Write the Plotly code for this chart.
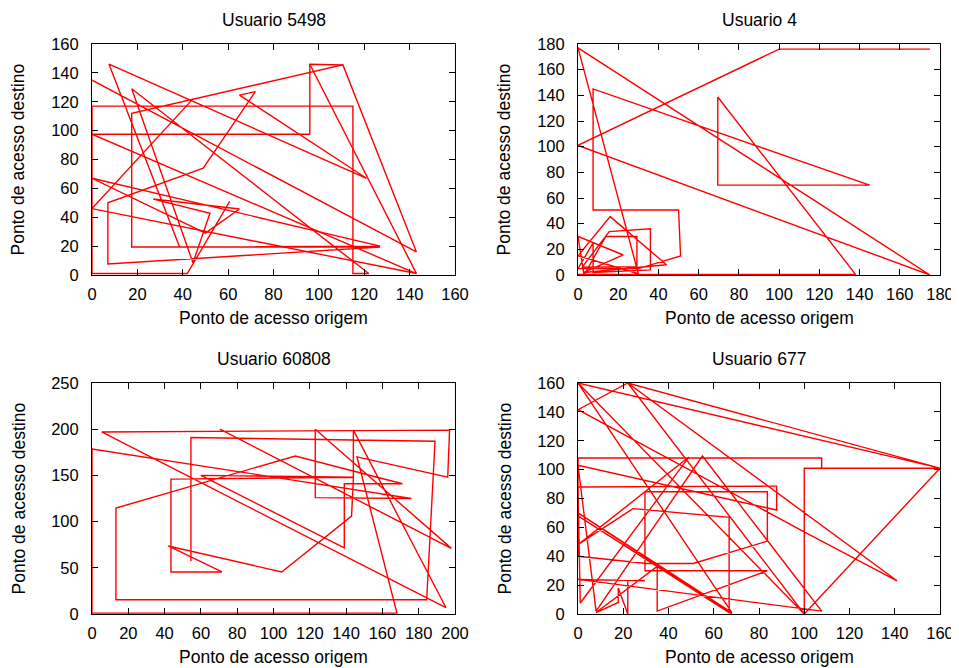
import plotly.graph_objects as go

# ---- data (access point origin -> destination paths) ----
u5498_x = [0, 143, 110.6, 17.5, 17.5, 127, 7, 7, 49, 72, 65, 121, 7.5, 38.6, 127, 0, 50, 65, 27, 52, 44.5, 17.5, 122, 115, 115, 0, 0, 42, 60.7]
u5498_y = [135, 16, 145.5, 112, 19.4, 19.4, 7.6, 50, 74, 127, 124.6, 67, 146, 19.4, 20, 67, 29, 45.7, 52.6, 42.7, 8.5, 129, 1, 1, 117, 117, 1, 1, 51]
u5498_x2 = [44.5, 0, 143, 0, 96, 96, 110.6]
u5498_y2 = [122, 46, 1, 97.5, 97.5, 146, 145.5]
u5498_x3 = [96, 143]
u5498_y3 = [146, 1]

u4_x = [175, 100, 0, 175, 0, 30, 0, 16, 44, 3, 22.5, 0, 3, 13.8, 29.3, 29.3, 2, 15.5, 36, 36, 7.5, 7.5, 0, 30, 51, 50, 7.5, 7.5, 145, 69.5, 69.5, 138, 0]
u4_y = [176, 176, 101, 0, 177, 1, 15, 45.5, 8, 2, 15.6, 30, 0, 30, 30, 6.5, 6, 33.8, 36, 4, 2, 25, 5, 5, 14.8, 50.6, 50.6, 145, 70, 70, 138.7, 0.5, 0.5]

u60808_x = [54.5, 54.5, 189, 184.4, 13.2, 13.2, 112, 171, 139, 139, 60, 144, 43.5, 43.5, 71.6, 42, 104.5, 143, 144, 144, 195, 5.3, 197, 196, 146, 168, 0, 0, 176, 123, 123, 198, 70.5]
u60808_y = [57, 191, 187, 15.5, 15.5, 114.7, 171, 141, 141, 71.5, 150, 148, 146, 45.5, 45.5, 73.6, 45.5, 106, 146, 199, 7, 197, 199, 148, 170, 1, 1, 178.6, 125, 126, 200, 71, 200]

u677_x = [0, 100, 22, 0, 101, 141, 22, 160, 0, 68, 0, 68, 0, 66.8, 66.8, 24.3, 0, 49, 1, 0, 87.8, 87.8, 0, 8, 55, 107.7, 0, 29.6, 22, 22, 17.8, 17.8, 8, 35, 35, 83.7, 29.6, 29.6, 83.7, 83.7, 51, 30.4, 0, 0, 107.7, 107.7, 160, 100, 100, 107.7]
u677_y = [160, 0, 160, 141.5, 56, 23, 160, 101, 160, 1, 70, 0, 68, 1, 67, 73, 48, 108.7, 7.6, 88, 88.6, 72, 103, 2, 109.4, 2, 24, 23, 23, 0, 18, 8, 1, 33, 2, 30, 30, 84.7, 84.7, 50.5, 35, 35, 40, 108, 108, 101, 101, 0, 101, 101]

titles = ["Usuario 5498", "Usuario 4", "Usuario 60808", "Usuario 677"]
x_label = "Ponto de acesso origem"
y_label = "Ponto de acesso destino"

OFF = 8  # default page body margin
W, H = 959 - OFF, 668 - OFF
FONT = "Liberation Sans, Arial, sans-serif"
RED = "#ff0000"
FS = 17.5

panels = [
    # (axis suffix, target px box: left, right, top, bottom, xmax, xdtick, ymax, ydtick)
    ("", (92, 455, 44, 275), 160, 20, 160, 20),
    ("2", (578, 940, 44, 275), 180, 20, 180, 20),
    ("3", (92, 455, 383, 614), 200, 20, 250, 50),
    ("4", (578, 940, 383, 614), 160, 20, 160, 20),
]

series = [
    [(u5498_x, u5498_y), (u5498_x2, u5498_y2), (u5498_x3, u5498_y3)],
    [(u4_x, u4_y)],
    [(u60808_x, u60808_y)],
    [(u677_x, u677_y)],
]


def px(p):
    return (p - OFF) / W


def py(p):
    return 1 - (p - OFF) / H


fig = go.Figure()
layout = dict(width=W, height=H, margin=dict(l=0, r=0, t=0, b=0, pad=0),
              paper_bgcolor="white", plot_bgcolor="white", showlegend=False,
              font=dict(family=FONT, size=FS, color="black"))

annotations = []
for i, (suf, (l, r, t, b), xmax, xdt, ymax, ydt) in enumerate(panels):
    xa = "x" + suf
    ya = "y" + suf
    for sx, sy in series[i]:
        fig.add_trace(go.Scatter(x=sx, y=sy, mode="lines", xaxis=xa, yaxis=ya,
                                 line=dict(color=RED, width=1.4), hoverinfo="skip"))
    axcommon = dict(showgrid=False, zeroline=False, showline=True, linecolor="black",
                    linewidth=1, mirror="ticks", ticks="inside", ticklen=6, tickwidth=1,
                    tickcolor="black", automargin=False,
                    tickfont=dict(family=FONT, size=16.5, color="black"))
    layout["xaxis" + suf] = dict(domain=[px(l), px(r)], range=[0, xmax], dtick=xdt, tick0=0,
                                 anchor=ya, ticklabelstandoff=4, **axcommon)
    layout["yaxis" + suf] = dict(domain=[py(b), py(t)], range=[0, ymax], dtick=ydt, tick0=0,
                                 anchor=xa, ticklabelstandoff=9, **axcommon)
    cx = px((l + r) / 2)
    annotations.append(dict(text=titles[i], x=cx, y=py(t - 24), xref="paper", yref="paper",
                            showarrow=False, xanchor="center", yanchor="middle",
                            font=dict(family=FONT, size=FS)))
    annotations.append(dict(text=x_label, x=cx, y=py(b + 43), xref="paper", yref="paper",
                            showarrow=False, xanchor="center", yanchor="middle",
                            font=dict(family=FONT, size=FS)))
    annotations.append(dict(text=y_label, x=px(l - 74), y=py((t + b) / 2), xref="paper", yref="paper",
                            showarrow=False, xanchor="center", yanchor="middle", textangle=-90,
                            font=dict(family=FONT, size=FS)))

layout["annotations"] = annotations
fig.update_layout(**layout)
fig.write_html("out.html")
